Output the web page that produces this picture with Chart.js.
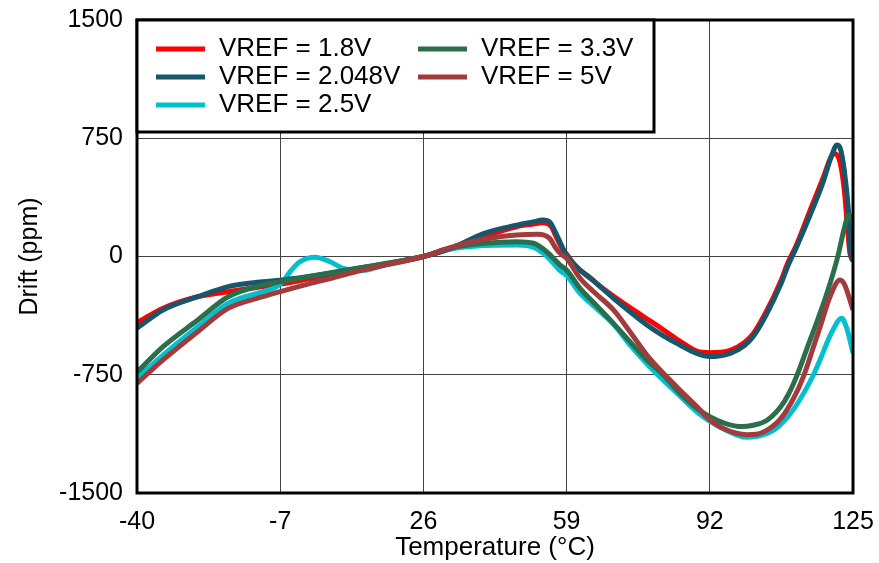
<!DOCTYPE html>
<html><head><meta charset="utf-8">
<script src="https://cdn.jsdelivr.net/npm/chart.js@4.4.1/dist/chart.umd.min.js"></script>
<style>html,body{margin:0;padding:0;background:#fff;}</style>
</head><body>
<canvas id="c" width="879" height="563"></canvas>
<script>
// ---- Data ----
const xTicks = [-40, -7, 26, 59, 92, 125];
const yTicks = [-1500, -750, 0, 750, 1500];

const t18 = [-40,-34,-26,-19,-11,-7,0,5,10,16,26,33,40,47.5,51,53.5,55.5,56.5,58,59,61,64,67,70,75,80,85,89,92,96.7,100,102,105,108.3,110,112,115,118,120,120.7,122,123,123.6,124.3,125];
const d18 = [-420,-328,-255,-223,-191,-175,-140,-115,-88,-58,0,55,127,189,205,214,189,130,50,15,-60,-125,-195,-255,-350,-440,-535,-600,-610,-595,-545,-490,-350,-160,-40,75,285,490,635,654,600,420,230,20,-20];

const t2048 = [-40,-34,-26,-19,-11,-7,0,5,10,16,26,33,40,47.5,51,53.6,55,56.5,58,59,62.1,65,69.8,73.6,77.5,81.3,85.1,89,92,96.7,100,102,105,108.3,110,112,115,118,120,121.3,122,123,124,124.6,125];
const d2048 = [-455,-339,-255,-191,-160,-150,-125,-105,-80,-52,0,60,147,199,218,231,222,150,60,8,-86,-150,-265,-350,-434,-503,-561,-615,-635,-614,-565,-508,-370,-180,-60,60,255,464,633,707,690,545,275,0,-30];

const t25 = [-40,-34,-26,-19,-11,-7.8,-6,-4.7,-2.4,1,4.5,7.5,10,12.2,16,20,26,32,40,47.5,51.4,54.4,57.5,59,62.1,65.5,69.8,73.6,77.5,81.3,85.1,89,92,96,100.4,103,105.5,108,111.3,115.9,117.4,120,122.4,123.5,124.3,125];
const d25 = [-770,-625,-445,-297,-223,-191,-145,-96,-33,-5,-33,-75,-85,-88,-62,-33,0,45,69,73,58,3,-90,-120,-234,-320,-430,-560,-680,-785,-885,-985,-1045,-1105,-1147,-1140,-1120,-1075,-970,-750,-656,-487,-392,-450,-530,-614];

const t33 = [-40,-34,-26,-19,-11,-7,0,5,10,16,26,32,40,47.5,51.4,54.4,57.5,59,62.1,65.5,69.8,73.6,77.5,81.3,85.1,89,92,95.5,99.4,102,105.1,108.3,110,112,114.3,117,119,121.5,123,124,125];
const d33 = [-735,-572,-403,-255,-181,-160,-125,-102,-78,-50,0,52,84,94,84,30,-54,-86,-202,-300,-424,-540,-656,-751,-868,-963,-1016,-1058,-1079,-1070,-1040,-955,-880,-760,-590,-390,-233,0,180,263,230];

const t5 = [-40,-34,-26,-19,-11,-7,0,4.5,10,16,26,32,40,47.5,52.4,55.1,56.3,57.5,59,62.1,65.5,69.8,73.6,77.5,81.3,85.1,89,92,95,98.1,100.5,102.7,105,108.3,111.3,113.6,115.9,117.5,119.7,122,123,124,125];
const d5 = [-805,-656,-477,-329,-255,-223,-170,-140,-100,-62,0,55,109,136,141,115,62,20,-12,-138,-230,-339,-477,-625,-741,-847,-952,-1037,-1090,-1121,-1130,-1128,-1105,-1030,-900,-760,-572,-440,-255,-149,-175,-250,-340];

const labels = ['VREF = 1.8V','VREF = 2.048V','VREF = 2.5V','VREF = 3.3V','VREF = 5V'];
const colors = ['#ff0000','#17576b','#00bfcf','#2b6e4c','#a03c3c'];
const xs = [t18, t2048, t25, t33, t5];
const ys = [d18, d2048, d25, d33, d5];
const drawOrder = [4, 2, 3, 1, 0];

const FONT = "'Liberation Sans', Arial, sans-serif";

const datasets = labels.map((lab, i) => ({
  label: lab,
  data: xs[i].map((x, k) => ({x: x, y: ys[i][k]})),
  borderColor: colors[i],
  backgroundColor: colors[i],
  borderWidth: 5,
  pointRadius: 0,
  fill: false,
  cubicInterpolationMode: 'monotone',
  order: drawOrder[i]
}));

const framePlugin = {
  id: 'frame',
  afterDatasetsDraw(chart) {
    const {ctx, chartArea: a} = chart;
    ctx.save();
    ctx.strokeStyle = '#000';
    ctx.lineWidth = 3;
    ctx.strokeRect(a.left, a.top, a.right - a.left, a.bottom - a.top);
    // legend box
    const bx = a.left, by = a.top, bw = 517, bh = 112;
    ctx.fillStyle = '#fff';
    ctx.fillRect(bx, by, bw, bh);
    ctx.strokeRect(bx, by, bw, bh);
    const cols = [[156, 219], [418, 481]];
    const rows = [49, 77, 105];
    ctx.font = '26px ' + FONT;
    ctx.textBaseline = 'middle';
    ctx.textAlign = 'left';
    chart.data.datasets.forEach((ds, i) => {
      const c = i < 3 ? 0 : 1;
      const r = i < 3 ? i : i - 3;
      const y = rows[r];
      ctx.strokeStyle = ds.borderColor;
      ctx.lineWidth = 5;
      ctx.beginPath();
      ctx.moveTo(cols[c][0], y);
      ctx.lineTo(cols[c][0] + 49, y);
      ctx.stroke();
      ctx.fillStyle = '#000';
      ctx.fillText(ds.label, cols[c][1], y);
    });
    ctx.restore();
  }
};

new Chart(document.getElementById('c').getContext('2d'), {
  type: 'line',
  data: { datasets },
  options: {
    responsive: false,
    animation: false,
    devicePixelRatio: 1,
    layout: { padding: { left: 0, right: 26, top: 20, bottom: 0 } },
    plugins: { legend: { display: false }, tooltip: { enabled: false } },
    scales: {
      x: {
        type: 'linear', min: -40, max: 125,
        afterBuildTicks: s => { s.ticks = xTicks.map(v => ({ value: v })); },
        afterFit: s => { s.height = 70; s.paddingLeft = 0; s.paddingRight = 0; },
        ticks: { font: { family: FONT, size: 25 }, color: '#000', padding: 14, maxRotation: 0, autoSkip: false, callback: v => String(v) },
        grid: { color: '#444', lineWidth: 1, drawTicks: false },
        border: { display: false },
        title: { display: true, text: 'Temperature (°C)', color: '#000', font: { family: FONT, size: 26 }, padding: { top: 0, bottom: 0 } }
      },
      y: {
        type: 'linear', min: -1500, max: 1500,
        afterBuildTicks: s => { s.ticks = yTicks.map(v => ({ value: v })); },
        afterFit: s => { s.width = 137; s.paddingTop = 0; s.paddingBottom = 0; },
        ticks: { font: { family: FONT, size: 25 }, color: '#000', padding: 14, callback: v => String(v) },
        grid: { color: '#444', lineWidth: 1, drawTicks: false },
        border: { display: false },
        title: { display: true, text: 'Drift (ppm)', color: '#000', font: { family: FONT, size: 25 }, padding: { top: 15, bottom: 0 } }
      }
    }
  },
  plugins: [framePlugin]
});
</script>
</body></html>
